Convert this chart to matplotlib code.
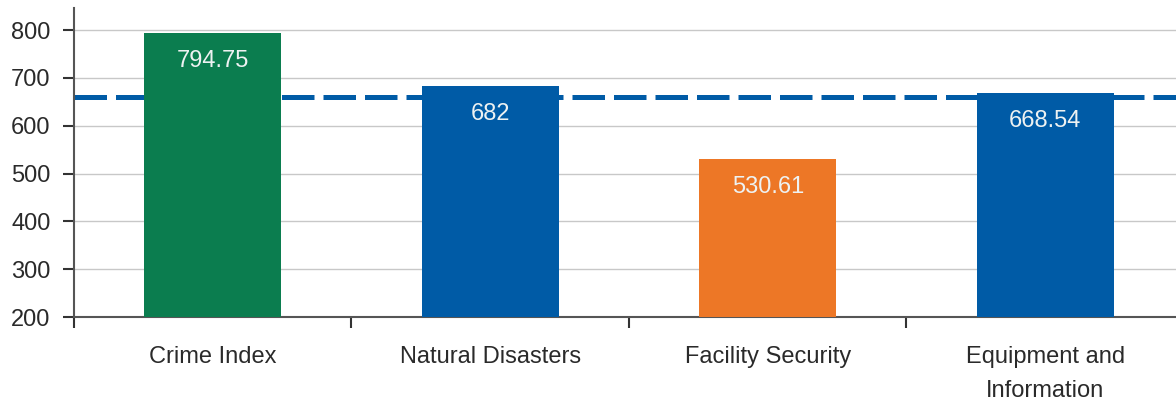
import matplotlib.pyplot as plt

# Scores per category
categories = ['Crime Index', 'Natural Disasters', 'Facility Security',
              'Equipment and\nInformation']
scores = [794.75, 682, 530.61, 668.54]
score_labels = ['794.75', '682', '530.61', '668.54']
bar_colors = ['#0b7d4f', '#005ba6', '#ed7726', '#005ba6']
benchmark = 660

plt.rcParams['font.family'] = ['Liberation Sans', 'DejaVu Sans']

fig = plt.figure(figsize=(11.76, 4.0), dpi=100)
ax = fig.add_axes([74 / 1176, 83 / 400, 1 - 74 / 1176, 309 / 400])

x = range(len(categories))
ax.bar(x, [s - 200 for s in scores], bottom=200, width=0.495,
       color=bar_colors, zorder=3)
for i, s in enumerate(scores):
    ax.text(i, s - 28 / 0.478, score_labels[i], ha='center', va='center',
            color='#eef2f2', fontsize=17, zorder=4)

ax.axhline(benchmark, color='#005ba6', lw=3.6, dashes=(6.5, 1.8),
           zorder=2)

ax.set_yticks(range(200, 801, 100))
ax.yaxis.grid(True, color='#c8c8c8', lw=1, zorder=0)
ax.set_axisbelow(True)

# category names centred, tick marks on category boundaries
ax.set_xticks([-0.5, 0.5, 1.5, 2.5], minor=False)
ax.set_xticklabels([])
ax.set_xticks(list(x), minor=True)
ax.set_xticklabels(categories, minor=True, fontsize=17, color='#2a2a2a',
                   linespacing=1.7)
ax.tick_params(axis='x', which='minor', length=0, pad=21)
ax.tick_params(axis='x', which='major', length=8, width=1.5,
               color='#333333', direction='out')
ax.tick_params(axis='y', length=8, width=1.5, color='#333333',
               labelsize=17, labelcolor='#2a2a2a', pad=9)

ax.set_ylim(200, 846)
ax.set_xlim(-0.5, 3.5 - 8 / 278)

for side in ['top', 'right']:
    ax.spines[side].set_visible(False)
for side in ['left', 'bottom']:
    ax.spines[side].set_color('#555555')
    ax.spines[side].set_linewidth(1.5)

fig.savefig('out.png', dpi=100)
